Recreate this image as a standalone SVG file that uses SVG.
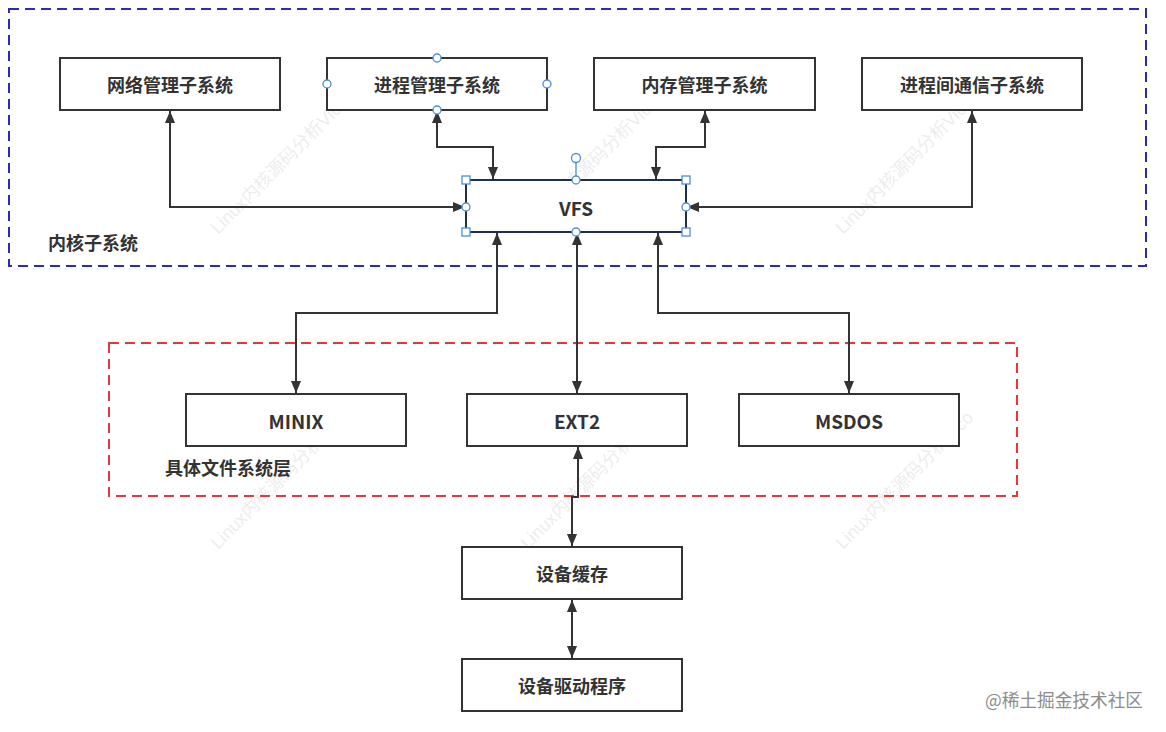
<svg xmlns="http://www.w3.org/2000/svg" width="1166" height="732" viewBox="0 0 1166 732">
<style>
.box{fill:#fff;stroke:#333;stroke-width:2}
.lbl{font-family:"Noto Sans CJK SC","Noto Sans",sans-serif;font-weight:bold;font-size:18px;fill:#333;text-anchor:middle;dominant-baseline:central}
.grp{font-family:"Noto Sans CJK SC","Noto Sans",sans-serif;font-weight:bold;font-size:18px;fill:#333;dominant-baseline:central}
.conn{fill:none;stroke:#333;stroke-width:2;marker-start:url(#arr);marker-end:url(#arr)}
.h{fill:#fff;stroke:#4a8fd6;stroke-width:1.3}
.wm{font-family:"Liberation Sans","Noto Sans CJK SC",sans-serif;font-size:18px;fill:#000;opacity:0.07}
</style>
<defs>
<marker id="arr" viewBox="0 0 10 10" refX="10" refY="5" markerWidth="12" markerHeight="12" markerUnits="userSpaceOnUse" orient="auto-start-reverse">
<path d="M0,0.8 L10,5 L0,9.2 z" fill="#333"/>
</marker>
</defs>
<rect width="1166" height="732" fill="#fff"/>

<g id="watermarks">
<text class="wm" transform="translate(218,235) rotate(-45)">Linux内核源码分析Vico</text>
<text class="wm" transform="translate(528,235) rotate(-45)">Linux内核源码分析Vico</text>
<text class="wm" transform="translate(843,235) rotate(-45)">Linux内核源码分析Vico</text>
<text class="wm" transform="translate(218,550) rotate(-45)">Linux内核源码分析Vico</text>
<text class="wm" transform="translate(528,550) rotate(-45)">Linux内核源码分析Vico</text>
<text class="wm" transform="translate(843,550) rotate(-45)">Linux内核源码分析Vico</text>
</g>

<g id="kernel-group">
<rect x="9" y="9" width="1137" height="257" fill="none" stroke="#2a2ac0" stroke-width="2" stroke-dasharray="10 6"/>
<text class="grp" x="48" y="242">内核子系统</text>
</g>
<g id="fs-group">
<rect x="109" y="343" width="908" height="153" fill="none" stroke="#e03a3a" stroke-width="2" stroke-dasharray="10 6"/>
<text class="grp" x="165" y="467">具体文件系统层</text>
</g>

<g id="connectors">
<path class="conn" d="M170,111 V207 H465"/>
<path class="conn" d="M437,111 V147 H493 V179"/>
<path class="conn" d="M705,111 V147 H656 V179"/>
<path class="conn" d="M972,111 V207 H687"/>
<path class="conn" d="M497,233 V313 H296 V393"/>
<path class="conn" d="M577,233 V393"/>
<path class="conn" d="M658,233 V313 H849 V393"/>
<path class="conn" d="M578,447 V497 H572 V546"/>
<path class="conn" d="M572,600 V658"/>
</g>

<g id="net">
<rect class="box" x="60" y="58" width="220" height="52"/>
<text class="lbl" x="170" y="84">网络管理子系统</text>
</g>
<g id="proc">
<rect class="box" x="327" y="58" width="220" height="52"/>
<text class="lbl" x="437" y="84">进程管理子系统</text>
<circle class="h" cx="437" cy="58" r="4"/>
<circle class="h" cx="437" cy="110" r="4"/>
<circle class="h" cx="327" cy="84" r="4"/>
<circle class="h" cx="547" cy="84" r="4"/>
</g>
<g id="mem">
<rect class="box" x="594" y="58" width="221" height="52"/>
<text class="lbl" x="704.5" y="84">内存管理子系统</text>
</g>
<g id="ipc">
<rect class="box" x="862" y="58" width="220" height="52"/>
<text class="lbl" x="972" y="84">进程间通信子系统</text>
</g>
<g id="vfs">
<rect x="466" y="180" width="220" height="52" fill="#fff" stroke="#1e2f4d" stroke-width="2"/>
<text class="lbl" x="576" y="207" style="font-size:19px">VFS</text>
<line x1="576" y1="162" x2="576" y2="180" stroke="#4a8fd6" stroke-width="1.3"/>
<circle class="h" cx="576" cy="158" r="4.5"/>
<rect class="h" x="462" y="176" width="8" height="8"/>
<rect class="h" x="682" y="176" width="8" height="8"/>
<rect class="h" x="462" y="228" width="8" height="8"/>
<rect class="h" x="682" y="228" width="8" height="8"/>
<circle class="h" cx="576" cy="180" r="4"/>
<circle class="h" cx="576" cy="232" r="4"/>
<circle class="h" cx="466" cy="207" r="4"/>
<circle class="h" cx="686" cy="207" r="4"/>
</g>
<g id="minix">
<rect class="box" x="186" y="394" width="220" height="52"/>
<text class="lbl" x="296" y="420" style="font-size:19px">MINIX</text>
</g>
<g id="ext2">
<rect class="box" x="467" y="394" width="220" height="52"/>
<text class="lbl" x="577" y="420" style="font-size:19px">EXT2</text>
</g>
<g id="msdos">
<rect class="box" x="739" y="394" width="220" height="52"/>
<text class="lbl" x="849" y="420" style="font-size:19px">MSDOS</text>
</g>
<g id="cache">
<rect class="box" x="462" y="547" width="220" height="52"/>
<text class="lbl" x="572" y="573">设备缓存</text>
</g>
<g id="driver">
<rect class="box" x="462" y="659" width="220" height="52"/>
<text class="lbl" x="572" y="685">设备驱动程序</text>
</g>

<text x="985" y="707" textLength="158" lengthAdjust="spacingAndGlyphs" style="font-family:'Noto Sans CJK SC','Noto Sans',sans-serif;font-size:18px;fill:#8c8c8c">@稀土掘金技术社区</text>
</svg>
